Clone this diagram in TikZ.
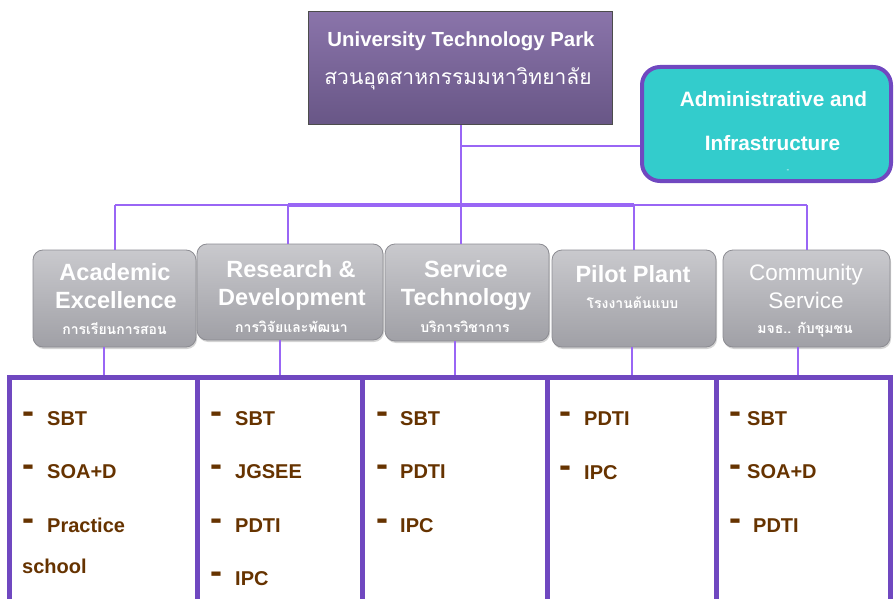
\documentclass[tikz,border=0pt]{standalone}
\usepackage{fontspec}
\setmainfont{Liberation Sans}
\newfontfamily\thaifont[Script=Thai]{Loma}
\usetikzlibrary{shadows}
\definecolor{conn}{HTML}{9966F5}
\definecolor{frame}{HTML}{7048C0}
\definecolor{teal}{HTML}{33CCCC}
\definecolor{ptop}{HTML}{8A74AA}
\definecolor{pbot}{HTML}{685686}
\definecolor{gtop}{HTML}{C9C9CD}
\definecolor{gbot}{HTML}{A0A0A6}
\definecolor{gline}{HTML}{8C8C92}
\definecolor{brownx}{HTML}{663300}
\begin{document}
\begin{tikzpicture}[x=1pt,y=-1pt,
  connline/.style={draw=conn,line width=2pt},
  busthick/.style={draw=conn,line width=3.5pt},
  topbox/.style={draw=black!70,line width=1pt,top color=ptop,bottom color=pbot,inner sep=0},
  adminbox/.style={draw=frame,line width=4pt,fill=teal,rounded corners=18pt,inner sep=0},
  graybox/.style={draw=gline,line width=0.8pt,top color=gtop,bottom color=gbot,rounded corners=10pt,inner sep=0,
     drop shadow={shadow xshift=1pt,shadow yshift=-2pt,opacity=0.35}},
  colbox/.style={draw=frame,line width=5pt,fill=white,inner sep=0},
  whitebold/.style={text=white,font=\bfseries\fontsize{23.5}{26}\selectfont,anchor=base,inner sep=0},
  whitereg/.style={text=white,font=\fontsize{22.5}{26}\selectfont,anchor=base,inner sep=0},
  thaisub/.style={text=white,font=\thaifont\bfseries\fontsize{14}{16}\selectfont,anchor=base,inner sep=0},
  item/.style={text=brownx,font=\bfseries\fontsize{20}{24}\selectfont,anchor=base west,inner sep=0},
  dashmark/.style={text=brownx,font=\bfseries\fontsize{36}{36}\selectfont,anchor=base west,inner sep=0}
]
\useasboundingbox (0,0) rectangle (894,599);
\clip (0,0) rectangle (894,599);

% ---- bottom column boxes (drawn first, extend below the page)
\node[colbox,minimum width=188pt,minimum height=272pt] (c1) at (103.5,513.5) {};
\node[colbox,minimum width=165pt,minimum height=272pt] (c2) at (280,513.5) {};
\node[colbox,minimum width=185pt,minimum height=272pt] (c3) at (455,513.5) {};
\node[colbox,minimum width=169pt,minimum height=272pt] (c4) at (632,513.5) {};
\node[colbox,minimum width=174pt,minimum height=272pt] (c5) at (803.5,513.5) {};

% ---- top box
\node[topbox,minimum width=304pt,minimum height=113pt] (top) at (460,68.5) {};
\node[text=white,font=\bfseries\fontsize{20.4}{24}\selectfont,anchor=base,inner sep=0] (topen) at (461,46.5) {University Technology Park};
\node[text=white,font=\thaifont\fontsize{21}{24}\selectfont,anchor=base,inner sep=0] (topth) at (458,85) {สวนอุตสาหกรรมมหาวิทยาลัย};

% ---- admin box
\node[adminbox,minimum width=249pt,minimum height=114pt] (admin) at (766.5,124) {};
\node[text=white,font=\bfseries\fontsize{20.8}{24}\selectfont,anchor=base,inner sep=0] (ad1) at (773.5,107) {Administrative and};
\node[text=white,font=\bfseries\fontsize{20.8}{24}\selectfont,anchor=base,inner sep=0] (ad2) at (772.5,150) {Infrastructure};
\node[text=white,font=\fontsize{8}{8}\selectfont,anchor=base,inner sep=0] (ad3) at (788,172) {-};

% ---- upper connectors
\coordinate (trunk) at (461,205);
\coordinate (tmid) at (461,146);
\coordinate (b1) at (115,205);
\coordinate (b2) at (288,205);
\coordinate (b4) at (634,205);
\coordinate (b5) at (807,205);
\draw[connline] (top.south -| trunk) -- (trunk);
\draw[connline] (tmid) -- (admin.west |- tmid);
\draw[connline] (b1) -- (b5);
\draw[busthick] (b2) -- (b4);

% ---- gray boxes
\node[graybox,minimum width=163pt,minimum height=97pt] (acad) at (114.5,298.5) {};
\node[graybox,minimum width=186pt,minimum height=96pt] (rd) at (290,292) {};
\node[graybox,minimum width=164pt,minimum height=97pt] (svc) at (467,292.5) {};
\node[graybox,minimum width=164pt,minimum height=97pt] (pilot) at (634,298.5) {};
\node[graybox,minimum width=167pt,minimum height=97pt] (comm) at (806.5,298.5) {};

\draw[connline] (b1) -- (b1 |- acad.north);
\draw[connline] (b2) -- (b2 |- rd.north);
\draw[connline] (trunk) -- (trunk |- svc.north);
\draw[connline] (b4) -- (b4 |- pilot.north);
\draw[connline] (b5) -- (b5 |- comm.north);

% ---- gray box texts
\node[whitebold] (acad1) at (115,280) {Academic};
\node[whitebold] (acad2) at (116,308) {Excellence};
\node[thaisub] (acad3) at (114.5,334) {การเรียนการสอน};
\node[whitebold] (rd1) at (291,277) {Research \&};
\node[whitebold] (rd2) at (292,305) {Development};
\node[thaisub] (rd3) at (291.5,332) {การวิจัยและพัฒนา};
\node[whitebold] (svc1) at (466,277) {Service};
\node[whitebold] (svc2) at (466,305) {Technology};
\node[thaisub] (svc3) at (465,332) {บริการวิชาการ};
\node[whitebold] (pil1) at (633,282) {Pilot Plant};
\node[thaisub] (pil2) at (632.5,308) {โรงงานต้นแบบ};
\node[whitereg] (com1) at (806,280) {Community};
\node[whitereg] (com2) at (806,308) {Service};
\node[thaisub] (com3) at (805,333) {มจธ.. กับชุมชน};

% ---- lower connectors
\coordinate (l1) at (104,347);
\coordinate (l2) at (280,340);
\coordinate (l3) at (455,341);
\coordinate (l4) at (632,347);
\coordinate (l5) at (798,347);
\foreach \p/\c in {l1/c1,l2/c2,l3/c3,l4/c4,l5/c5}{
  \draw[connline] (\p) -- (\p |- \c.north);
}

% ---- items column 1
\node[dashmark] (d11) at (22,423) {-};
\node[item] (i11) at (47,425) {SBT};
\node[dashmark] (d12) at (22,476) {-};
\node[item] (i12) at (47,478) {SOA+D};
\node[dashmark] (d13) at (22,530) {-};
\node[item] (i13) at (47,532) {Practice};
\node[item] (i14) at (22,573) {school};
% column 2
\node[dashmark] (d21) at (210,423) {-};
\node[item] (i21) at (235,425) {SBT};
\node[dashmark] (d22) at (210,476) {-};
\node[item] (i22) at (235,478) {JGSEE};
\node[dashmark] (d23) at (210,530) {-};
\node[item] (i23) at (235,532) {PDTI};
\node[dashmark] (d24) at (210,583) {-};
\node[item] (i24) at (235,585) {IPC};
% column 3
\node[dashmark] (d31) at (376,423) {-};
\node[item] (i31) at (400,425) {SBT};
\node[dashmark] (d32) at (376,476) {-};
\node[item] (i32) at (400,478) {PDTI};
\node[dashmark] (d33) at (376,530) {-};
\node[item] (i33) at (400,532) {IPC};
% column 4
\node[dashmark] (d41) at (559,423) {-};
\node[item] (i41) at (584,425) {PDTI};
\node[dashmark] (d42) at (559,477) {-};
\node[item] (i42) at (584,479) {IPC};
% column 5
\node[dashmark] (d51) at (729,423) {-};
\node[item] (i51) at (747,425) {SBT};
\node[dashmark] (d52) at (729,476) {-};
\node[item] (i52) at (747,478) {SOA+D};
\node[dashmark] (d53) at (729,530) {-};
\node[item] (i53) at (753,532) {PDTI};
\end{tikzpicture}
\end{document}
